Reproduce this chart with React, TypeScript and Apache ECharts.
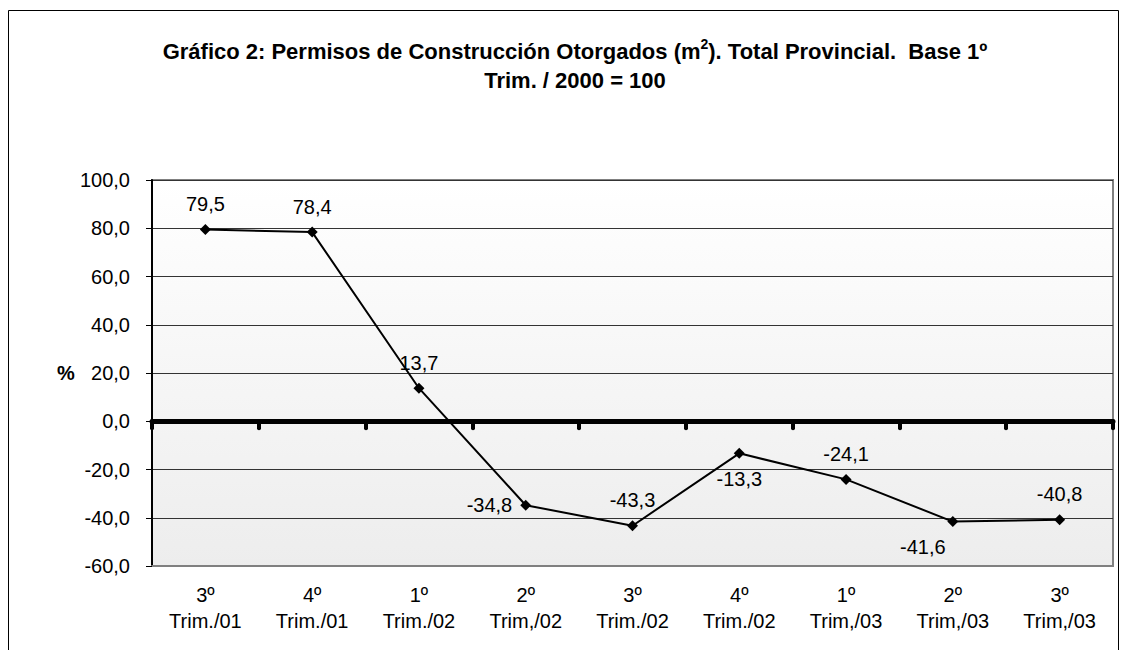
import React, { useEffect, useRef } from "react";
import * as echarts from "echarts";

const categories = [
  "3º\nTrim./01",
  "4º\nTrim./01",
  "1º\nTrim./02",
  "2º\nTrim,/02",
  "3º\nTrim./02",
  "4º\nTrim./02",
  "1º\nTrim,/03",
  "2º\nTrim,/03",
  "3º\nTrim,/03",
];
const values = [79.5, 78.4, 13.7, -34.8, -43.3, -13.3, -24.1, -41.6, -40.8];
const labelPlacement = ["top", "top", "top", "left", "top", "bottom", "top", "bottomLeft", "top"];
const yMin = -60;
const yMax = 100;
const yStep = 20;

const FONT = "'Liberation Sans', Arial, sans-serif";

export default function App() {
  const ref = useRef<HTMLDivElement>(null);
  useEffect(() => {
    if (!ref.current) return;
    const chart = echarts.init(ref.current, null, { renderer: "svg" });
    const fmt = (v: number) => v.toFixed(1).replace(".", ",");
    const data = values.map((v, i) => {
      const p = labelPlacement[i];
      let label: any = { position: "top", distance: 10 };
      if (p === "left") label = { position: "left", distance: 8 };
      if (p === "bottom") label = { position: "bottom", distance: 10 };
      if (p === "bottomLeft") label = { position: "bottom", distance: 10, offset: [-30, 0] };
      return { value: v, label };
    });
    chart.setOption({
      animation: false,
      backgroundColor: "#ffffff",
      textStyle: { fontFamily: FONT },
      title: {
        text: "Gráfico 2: Permisos de Construcción Otorgados (m{sup|2}). Total Provincial.  Base 1º\nTrim. / 2000 = 100",
        left: 570,
        top: 32,
        textAlign: "center",
        textStyle: {
          fontFamily: FONT,
          fontWeight: "bold",
          fontSize: 22,
          color: "#000",
          lineHeight: 29,
          rich: {
            sup: { fontFamily: FONT, fontWeight: "bold", fontSize: 14, verticalAlign: "top", lineHeight: 29, padding: [0, 0, 9, 0] },
          },
        },
      },
      grid: {
        left: 152,
        right: 13,
        top: 180,
        bottom: 84,
        show: true,
        borderColor: "#808080",
        borderWidth: 2,
        backgroundColor: new echarts.graphic.LinearGradient(0, 0, 0, 1, [
          { offset: 0, color: "#ffffff" },
          { offset: 1, color: "#ededed" },
        ]),
      },
      xAxis: [
        {
          type: "category",
          data: categories,
          boundaryGap: true,
          position: "bottom",
          axisLine: { onZero: false, lineStyle: { color: "#808080", width: 2 } },
          axisTick: { show: false },
          axisLabel: { color: "#000", fontSize: 20, fontFamily: FONT, lineHeight: 26, margin: 16 },
          splitLine: { show: false },
        },
        {
          type: "category",
          data: categories,
          boundaryGap: true,
          position: "bottom",
          axisLine: { onZero: true, lineStyle: { color: "#000", width: 5 } },
          axisTick: { show: true, inside: false, length: 7, alignWithLabel: false, lineStyle: { color: "#000", width: 4, cap: "round" } },
          axisLabel: { show: false },
          splitLine: { show: false },
        },
      ],
      yAxis: {
        type: "value",
        min: yMin,
        max: yMax,
        interval: yStep,
        axisLine: { show: true, lineStyle: { color: "#000", width: 2 } },
        axisTick: { show: true, length: 6, lineStyle: { color: "#000", width: 1 } },
        axisLabel: { color: "#000", fontSize: 20, fontFamily: FONT, margin: 22, formatter: (v: number) => fmt(v) },
        splitLine: { show: true, lineStyle: { color: "#333", width: 1 } },
      },
      graphic: [
        {
          type: "rect",
          shape: { x: 8.5, y: 10.5, width: 1110, height: 700 },
          style: { fill: "none", stroke: "#000", lineWidth: 1 },
          silent: true,
          z: 100,
        },
        {
          type: "text",
          x: 66,
          y: 373,
          style: { text: "%", font: `bold 20px ${FONT}`, fill: "#000", textAlign: "center", textVerticalAlign: "middle" },
        },
      ],
      series: [
        {
          type: "line",
          xAxisIndex: 0,
          data,
          symbol: "diamond",
          symbolSize: 11,
          lineStyle: { color: "#000", width: 2 },
          itemStyle: { color: "#000" },
          z: 5,
          label: {
            show: true,
            color: "#000",
            fontSize: 20,
            fontFamily: FONT,
            formatter: (p: any) => fmt(p.value),
          },
        },
      ],
    });
    return () => chart.dispose();
  }, []);
  return <div ref={ref} style={{ position: "absolute", left: 0, top: 0, width: 1126, height: 650 }} />;
}
